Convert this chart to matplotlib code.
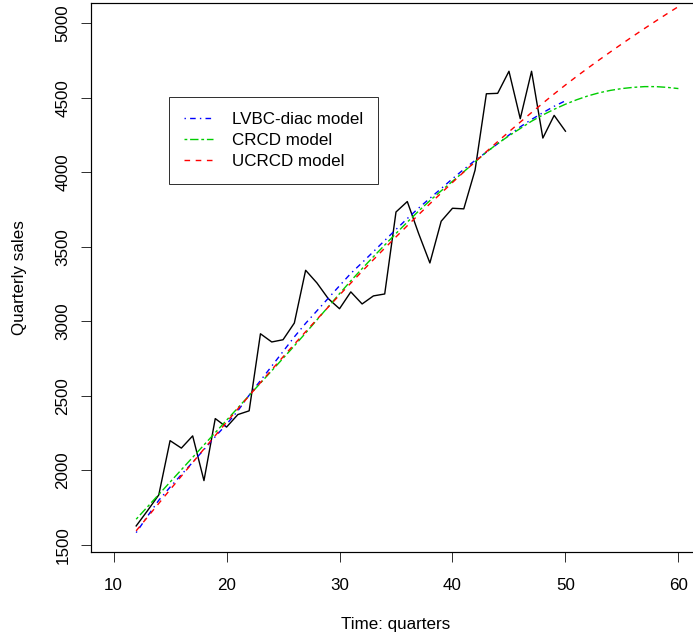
import matplotlib
matplotlib.use("Agg")
import matplotlib.pyplot as plt
import numpy as np

plt.rcParams['font.family'] = ['Liberation Sans', 'DejaVu Sans']

# Observed quarterly sales
obs_q = list(range(12, 51))
obs_sales = [1628, 1730, 1836, 2200, 2150, 2232, 1932, 2348, 2291, 2375,
             2400, 2917, 2862, 2877, 2989, 3343, 3258, 3153, 3085, 3198,
             3117, 3171, 3184, 3734, 3804, 3590, 3392, 3672, 3759, 3755,
             4015, 4527, 4530, 4678, 4360, 4678, 4230, 4382, 4276]

# LVBC-diac model (fitted, quarters 12..50)
lvbc_q = list(range(12, 51))
lvbc_vals = [1583, 1693, 1800, 1888, 1972, 2055, 2140, 2227, 2310, 2400,
             2505, 2603, 2700, 2798, 2896, 2987, 3071, 3155, 3239, 3322,
             3394, 3468, 3543, 3617, 3690, 3760, 3826, 3891, 3957, 4020,
             4080, 4135, 4192, 4250, 4305, 4355, 4400, 4443, 4480]

# CRCD model (quarters 12..60)
crcd_q = list(range(12, 61))
crcd_vals = [1673, 1756, 1839, 1922, 2005, 2088, 2171, 2254, 2337, 2420,
             2503, 2586, 2669, 2752, 2836, 2922, 3010, 3098, 3186, 3272,
             3354, 3434, 3512, 3590, 3666, 3740, 3810, 3876, 3940, 4004,
             4070, 4135, 4193, 4245, 4294, 4343, 4385, 4423, 4457, 4487,
             4513, 4534, 4550, 4562, 4570, 4575, 4575, 4570, 4562]

# UCRCD model (quarters 12..60)
ucrcd_q = list(range(12, 61))
ucrcd_vals = [1595, 1687, 1779, 1871, 1962, 2053, 2144, 2234, 2324, 2413,
              2501, 2589, 2676, 2762, 2847, 2931, 3014, 3096, 3177, 3257,
              3336, 3414, 3491, 3567, 3642, 3716, 3789, 3861, 3932, 4002,
              4071, 4139, 4206, 4272, 4337, 4401, 4464, 4526, 4586, 4644,
              4700, 4755, 4809, 4862, 4914, 4965, 5015, 5064, 5112]

x_ticks = [10, 20, 30, 40, 50, 60]
y_ticks = [1500, 2000, 2500, 3000, 3500, 4000, 4500, 5000]

FS = 17
W, H = 693, 636
fig = plt.figure(figsize=(W / 72, H / 72), dpi=72)
left_px, right_px, top_px, bottom_px = 91, 701, 2.7, 552
ax = fig.add_axes([left_px / W, 1 - bottom_px / H,
                   (right_px - left_px) / W, (bottom_px - top_px) / H])

lw = 1.4
ax.plot(obs_q, obs_sales, color='black', lw=lw)
ax.plot(lvbc_q, lvbc_vals, color='#0000FF', lw=lw,
        linestyle=(0, (1, 3, 4, 3)), label='LVBC-diac model')
ax.plot(crcd_q, crcd_vals, color='#00CD00', lw=lw,
        linestyle=(0, (2, 2, 6, 2)), label='CRCD model')
ax.plot(ucrcd_q, ucrcd_vals, color='#FF0000', lw=lw,
        linestyle=(0, (4, 4)), label='UCRCD model')

ax.set_xlim(8, 62)
ax.set_ylim(1453, 5138)
ax.set_xticks(x_ticks)
ax.set_yticks(y_ticks)
ax.set_xticklabels([str(t) for t in x_ticks], fontsize=FS)
ax.set_yticklabels([str(t) for t in y_ticks], fontsize=FS, rotation=90,
                   va='center')
ax.tick_params(axis='both', length=10, width=1, color='#333333',
               labelcolor='black')
ax.tick_params(axis='x', pad=16.5)
ax.tick_params(axis='y', pad=10.5)
for s in ax.spines.values():
    s.set_linewidth(1.2)
    s.set_color('black')

ax.set_xlabel('Time: quarters', fontsize=FS, labelpad=23)
ax.set_ylabel('Quarterly sales', fontsize=FS, labelpad=29)

leg = ax.legend(loc='upper left', bbox_to_anchor=(169 / W, 1 - 97 / H),
                bbox_transform=fig.transFigure, fontsize=FS, frameon=True,
                fancybox=False, borderpad=0.9, handlelength=1.7,
                handletextpad=1.1, labelspacing=0.34, borderaxespad=0)
leg.get_frame().set_edgecolor('black')
leg.get_frame().set_linewidth(1.0)

fig.savefig('out.png', dpi=72)
